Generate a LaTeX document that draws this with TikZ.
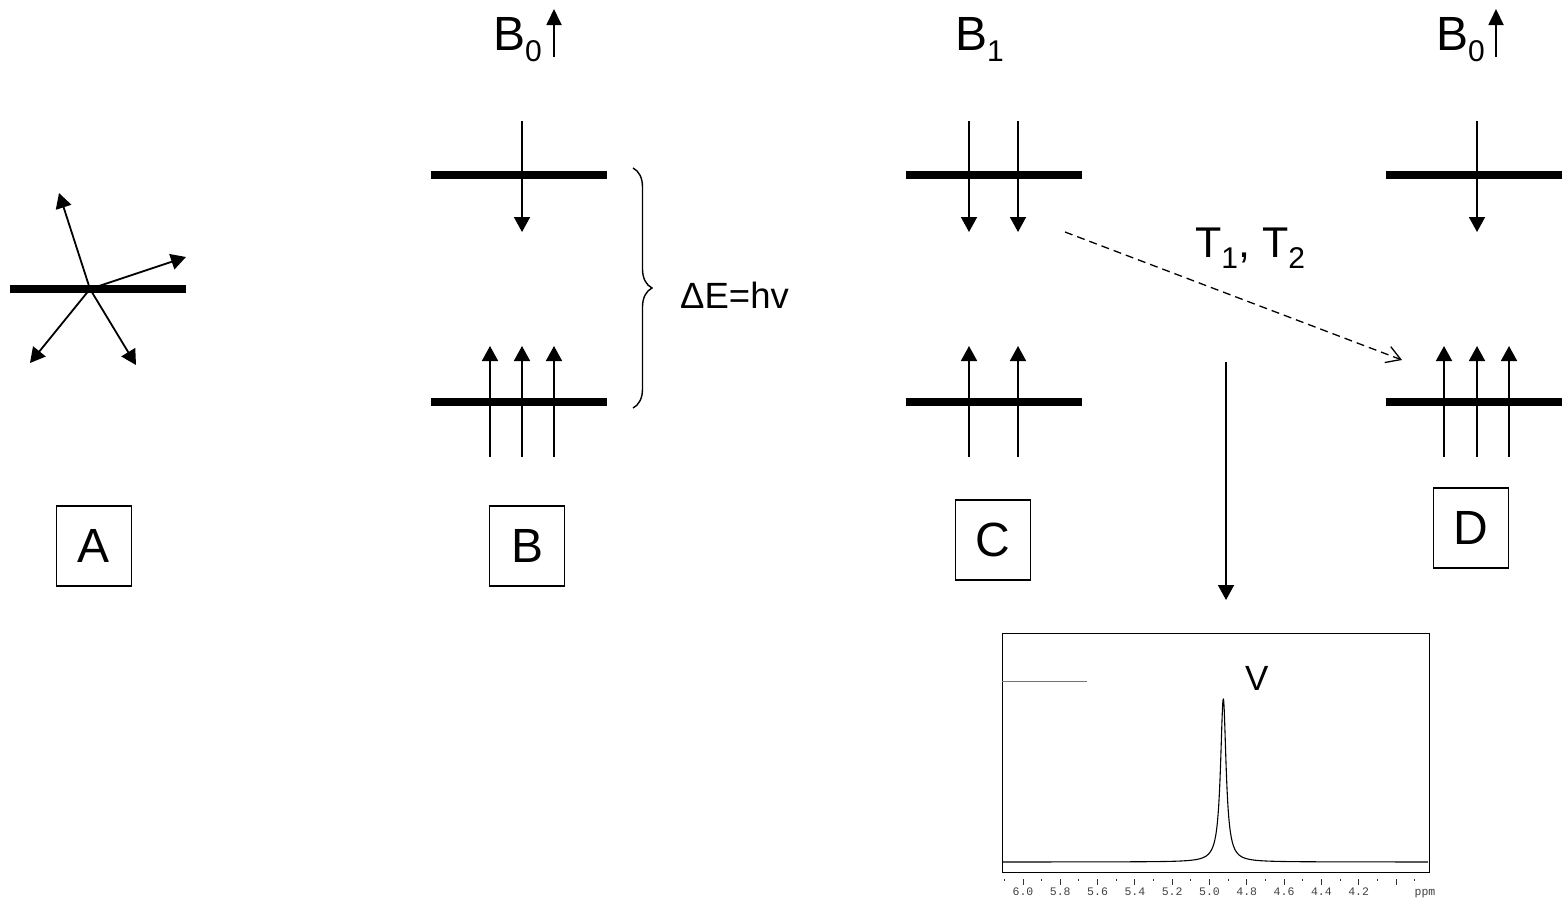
\documentclass[tikz,border=0pt]{standalone}
\usepackage{fontspec}
\setmainfont{Liberation Sans}
\newfontfamily\axisfont{Liberation Mono}
\usetikzlibrary{arrows.meta,decorations.pathreplacing}

% large label text and its lowered index
\newcommand\bigtext{\fontsize{48}{56}\selectfont}
\newcommand\midtext{\fontsize{43}{50}\selectfont}
\newcommand\lowsub[1]{\raisebox{-11pt}{\fontsize{30}{30}\selectfont #1}}

\tikzset{
  x=1pt, y=-1pt,
  level/.style={line width=7.5pt},
  spin/.style={line width=1.8pt, -{Triangle[width=16pt,length=15pt]}},
  field/.style={line width=1.8pt, -{Triangle[width=15pt,length=16pt]}},
  lblbox/.style={draw, line width=1.5pt, minimum width=75pt, minimum height=80pt,
                 inner sep=0pt, font=\bigtext},
  title/.style={anchor=base west, inner sep=0pt, font=\bigtext},
  relax/.style={line width=1.3pt, dash pattern=on 8pt off 5pt,
                -{Straight Barb[length=14pt,width=17pt]}},
  spectrum/.style={draw, line width=1.3pt, inner sep=0pt},
  trace/.style={line width=1.1pt},
  tick/.style={line width=0.9pt, black!80},
  ticklabel/.style={anchor=base, inner sep=0pt, text=black!75,
                    font=\axisfont\fontsize{11.5}{12}\selectfont},
}

\begin{document}
\begin{tikzpicture}
\useasboundingbox (0,0) rectangle (1562,900);

% ---------- A: random orientation ----------
\coordinate (a0) at (90,289);
\draw[level] (10,289) -- (186,289);
\draw[spin] (a0) -- (59,193);
\draw[spin] (a0) -- (186,257);
\draw[spin] (a0) -- (30,363);
\draw[spin] (a0) -- (136,365);
\node[lblbox] (boxA) at (94,546) {A};

% ---------- B: two levels in B0 ----------
\node[title] (titleB) at (493,50) {B\lowsub{0}};
\draw[field] (554,57) -- (554,9);
\draw[level] (431,175) -- (607,175);
\draw[level] (431,402) -- (607,402);
\draw[spin] (522,121) -- (522,232);
\foreach \x in {490,522,554} \draw[spin] (\x,457) -- (\x,346);
\draw[line width=1.4pt, decorate, decoration={brace, amplitude=19pt}]
  (633,168) -- (633,408);
\node[anchor=base west, inner sep=0pt, font=\fontsize{36.5}{42}\selectfont]
  (gap) at (680,308) {ΔE=hv};
\node[lblbox] (boxB) at (527,546) {B};

% ---------- C: excitation by B1 ----------
\node[title] (titleC) at (955,50) {B\lowsub{1}};
\draw[level] (906,175) -- (1082,175);
\draw[level] (906,402) -- (1082,402);
\foreach \x in {969,1018} {
  \draw[spin] (\x,121) -- (\x,232);
  \draw[spin] (\x,457) -- (\x,346);
}
\node[lblbox] (boxC) at (993,540) {C};

% ---------- D: back to equilibrium ----------
\node[title] (titleD) at (1436,50) {B\lowsub{0}};
\draw[field] (1496,57) -- (1496,9);
\draw[level] (1386,175) -- (1562,175);
\draw[level] (1386,402) -- (1562,402);
\draw[spin] (1477,121) -- (1477,232);
\foreach \x in {1444,1477,1509} \draw[spin] (\x,457) -- (\x,346);
\node[lblbox] (boxD) at (1471,528) {D};

% ---------- relaxation ----------
\coordinate (relaxfrom) at (1065,232);
\coordinate (relaxto) at (1402,360);
\draw[relax] (relaxfrom) -- (relaxto);
\node[anchor=base west, inner sep=0pt, font=\midtext] (tt) at (1195,257)
  {T\lowsub{1}, T\lowsub{2}};

% ---------- signal ----------
\coordinate (sigfrom) at (1226,362);
\coordinate (sigto) at (1226,600);
\draw[spin] (sigfrom) -- (sigto);

\node[spectrum, minimum width=426.6pt, minimum height=239pt] (spec) at (1216,752.8) {};
\draw[line width=1.3pt, black!55] (spec.west |- 0,681.7) -- (1087,681.7);
\node[anchor=base west, inner sep=0pt, font=\fontsize{35}{40}\selectfont]
  (nu) at (1245,690) {V};
\draw[trace] plot[domain=-89.126:89.065, samples=500, variable=\t]
  ({1223.3+3.36*tan(\t)}, {862-163*cos(\t)^2});

% chemical shift axis
\foreach \i in {0,...,11} \draw[tick] (1004.3+37.3*\i,878.5) -- ++(0,2.2);
\foreach \i in {0,...,10} \draw[tick] (1022.95+37.3*\i,879) -- ++(0,6);
\foreach \v [count=\i from 0] in {6.0,5.8,5.6,5.4,5.2,5.0,4.8,4.6,4.4,4.2}
  \node[ticklabel] at (1022.95+37.3*\i,895) {\v};
\node[ticklabel] (ppm) at (1425,895) {ppm};
\end{tikzpicture}
\end{document}
